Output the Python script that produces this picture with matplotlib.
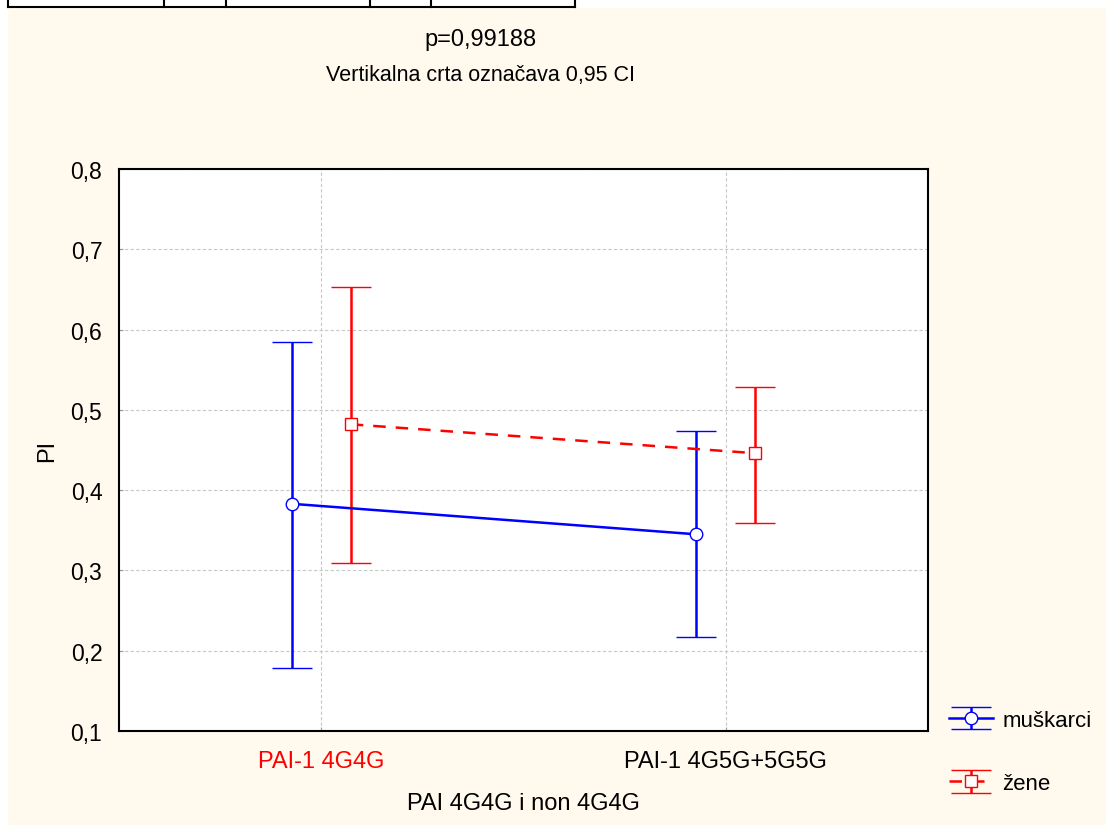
import matplotlib
matplotlib.use('Agg')
import matplotlib.pyplot as plt
import numpy as np
from matplotlib.patches import Rectangle
from matplotlib.lines import Line2D

plt.rcParams['font.family'] = ['Liberation Sans', 'DejaVu Sans']

# 데이터
categories = ['PAI-1 4G4G', 'PAI-1 4G5G+5G5G']
muskarci_mean = [0.383, 0.345]
muskarci_low = [0.178, 0.217]
muskarci_high = [0.585, 0.474]
zene_mean = [0.482, 0.446]
zene_low = [0.309, 0.359]
zene_high = [0.653, 0.528]
yticks = [0.1, 0.2, 0.3, 0.4, 0.5, 0.6, 0.7, 0.8]

W, H = 1106, 829
fig = plt.figure(figsize=(W / 100, H / 100), dpi=100)
fig.patch.set_facecolor('white')

# 크림색 배경
fig.add_artist(Rectangle((8 / W, 3 / H), 1 - 8 / W, 1 - 12 / H,
                         transform=fig.transFigure, facecolor='#fff9ee',
                         edgecolor='none', zorder=-10))

# 위쪽 표 선
top_y = 1 - 7.5 / H
fig.add_artist(Line2D([8 / W, 575 / W], [top_y, top_y], transform=fig.transFigure,
                      color='black', lw=1.5))
for xv in [8, 164, 226, 370, 431, 575]:
    fig.add_artist(Line2D([xv / W, xv / W], [top_y, 1], transform=fig.transFigure,
                          color='black', lw=1.5))

ax = fig.add_axes([119 / W, 1 - 732 / H, (928 - 119) / W, (732 - 170) / H])
ax.set_facecolor('white')

x = np.arange(len(categories))
off = 0.073

e1 = ax.errorbar(x - off, muskarci_mean,
                 yerr=[np.array(muskarci_mean) - np.array(muskarci_low),
                       np.array(muskarci_high) - np.array(muskarci_mean)],
                 color='#0000ff', lw=1.8, capsize=14.5, capthick=2,
                 marker='o', markersize=9, markerfacecolor='white',
                 markeredgecolor='#0000ff', markeredgewidth=1, label='muškarci', zorder=3)
e2 = ax.errorbar(x + off, zene_mean,
                 yerr=[np.array(zene_mean) - np.array(zene_low),
                       np.array(zene_high) - np.array(zene_mean)],
                 color='#ff0000', lw=1.8, ls=(0, (5, 4)), capsize=14.5, capthick=2,
                 marker='s', markersize=9, markerfacecolor='white',
                 markeredgecolor='#ff0000', markeredgewidth=1, label='žene', zorder=3)
e2[2][0].set_linestyle('-')

ax.set_xlim(-0.5, 1.5)
ax.set_ylim(0.1, 0.8)
ax.set_yticks(yticks)
ax.set_yticklabels([f'{v:.1f}'.replace('.', ',') for v in yticks], fontsize=16.5)
ax.set_xticks(x)
ax.set_xticklabels(categories, fontsize=17)
ax.get_xticklabels()[0].set_color('#ff0000')
ax.tick_params(axis='both', direction='in', length=3, color='#999999')
ax.tick_params(axis='x', pad=14)
ax.tick_params(axis='y', pad=12)
ax.grid(True, color='#c8c8c8', ls=(0, (3, 2)), lw=0.8)
for s in ax.spines.values():
    s.set_linewidth(1.5)

ax.set_ylabel('PI', fontsize=17, labelpad=9)
ax.set_xlabel('PAI 4G4G i non 4G4G', fontsize=17, labelpad=14)

fig.text(481 / W, 1 - 40 / H, 'p=0,99188', ha='center', va='center', fontsize=17)
fig.text(481 / W, 1 - 75 / H, 'Vertikalna crta označava 0,95 CI', ha='center',
         va='center', fontsize=15.5)

leg = fig.legend(handles=[e1, e2], loc='upper left', bbox_to_anchor=(949 / W, 1 - 711 / H),
                 frameon=False, fontsize=16, handlelength=2.0, labelspacing=1.9,
                 handletextpad=0.4, borderpad=0, borderaxespad=0)

fig.savefig('out.png', dpi=100, facecolor=fig.get_facecolor())
